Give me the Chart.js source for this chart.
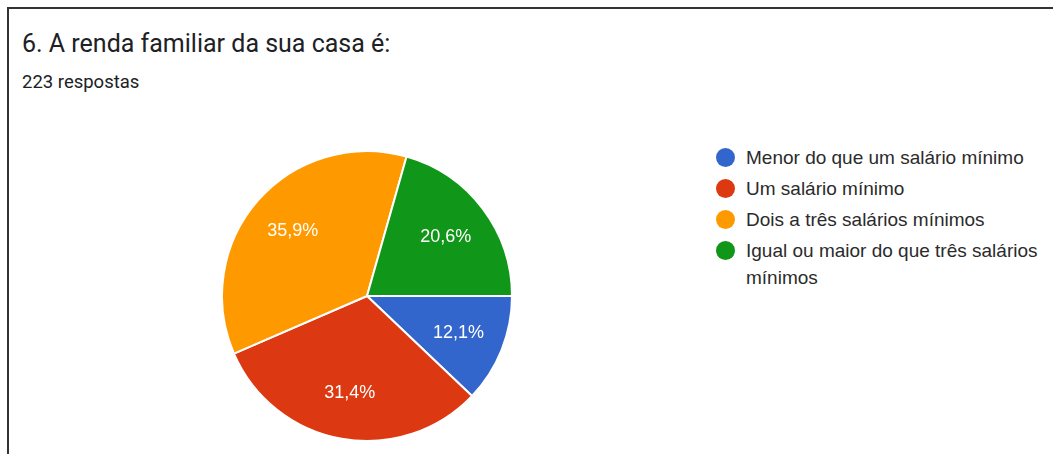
<!DOCTYPE html>
<html>
<head>
<meta charset="utf-8">
<script src="https://cdn.jsdelivr.net/npm/chart.js@4/dist/chart.umd.min.js"></script>
<style>
    html, body { margin: 0; padding: 0; background: #fff; }
    body { width: 1053px; height: 454px; position: relative; overflow: hidden; }
    .frame { position: absolute; left: 7px; top: 7px; right: -10px; bottom: -10px; border-left: 2px solid #333; border-top: 2px solid #333; }
    .title { position: absolute; left: 22px; top: 29px; font: 400 25px Roboto, sans-serif; color: #202124; }
    .subtitle { position: absolute; left: 22px; top: 71px; font: 400 18.5px Roboto, sans-serif; color: #202124; }
    .chart-box { position: absolute; left: 217px; top: 145px; width: 300px; height: 302px; }
    .legend { position: absolute; left: 716px; top: 144px; width: 330px; list-style: none; margin: 0; padding: 0; font: 19px "Liberation Sans", Arial, sans-serif; color: #2b2b2b; }
    .legend li { position: relative; padding-left: 30px; line-height: 27px; margin-bottom: 4px; }
    .legend li span.dot { position: absolute; left: 0; top: 4px; width: 19px; height: 19px; border-radius: 50%; }
</style>
</head>
<body>
<div class="frame"></div>
<div class="title">6. A renda familiar da sua casa é:</div>
<div class="subtitle">223 respostas</div>
<div class="chart-box"><canvas id="pie"></canvas></div>
<ul class="legend" id="legend"></ul>
<script>
(() => {
    'use strict';

    const categories = [
        'Menor do que um salário mínimo',
        'Um salário mínimo',
        'Dois a três salários mínimos',
        'Igual ou maior do que três salários mínimos',
    ];
    const percentages = [12.1, 31.4, 35.9, 20.6];
    const colors = ['#3366cc', '#dc3912', '#ff9900', '#109618'];

    const legend = document.getElementById('legend');
    categories.forEach((label, index) => {
        const item = document.createElement('li');
        const dot = document.createElement('span');
        dot.className = 'dot';
        dot.style.background = colors[index];
        item.appendChild(dot);
        item.appendChild(document.createTextNode(label));
        legend.appendChild(item);
    });

    const sliceLabels = {
        id: 'sliceLabels',
        afterDatasetsDraw(chart) {
            const context = chart.ctx;
            chart.getDatasetMeta(0).data.forEach((arc, index) => {
                const mid = (arc.startAngle + arc.endAngle) / 2;
                const r = arc.outerRadius * 0.68;
                const label = percentages[index].toFixed(1).replace('.', ',') + '%';
                context.save();
                context.font = '18px "Liberation Sans", Arial, sans-serif';
                context.fillStyle = '#ffffff';
                context.textAlign = 'center';
                context.textBaseline = 'middle';
                context.fillText(label, arc.x + Math.cos(mid) * r, arc.y + Math.sin(mid) * r);
                context.restore();
            });
        },
    };

    new Chart(document.getElementById('pie'), {
        type: 'pie',
        data: {
            labels: categories,
            datasets: [{
                data: percentages,
                backgroundColor: colors,
                borderColor: '#ffffff',
                borderWidth: 2,
            }],
        },
        plugins: [sliceLabels],
        options: {
            responsive: true,
            maintainAspectRatio: false,
            animation: false,
            rotation: 90,
            layout: { padding: 4 },
            plugins: {
                legend: { display: false },
                tooltip: { enabled: false },
            },
        },
    });
})();
</script>
</body>
</html>
